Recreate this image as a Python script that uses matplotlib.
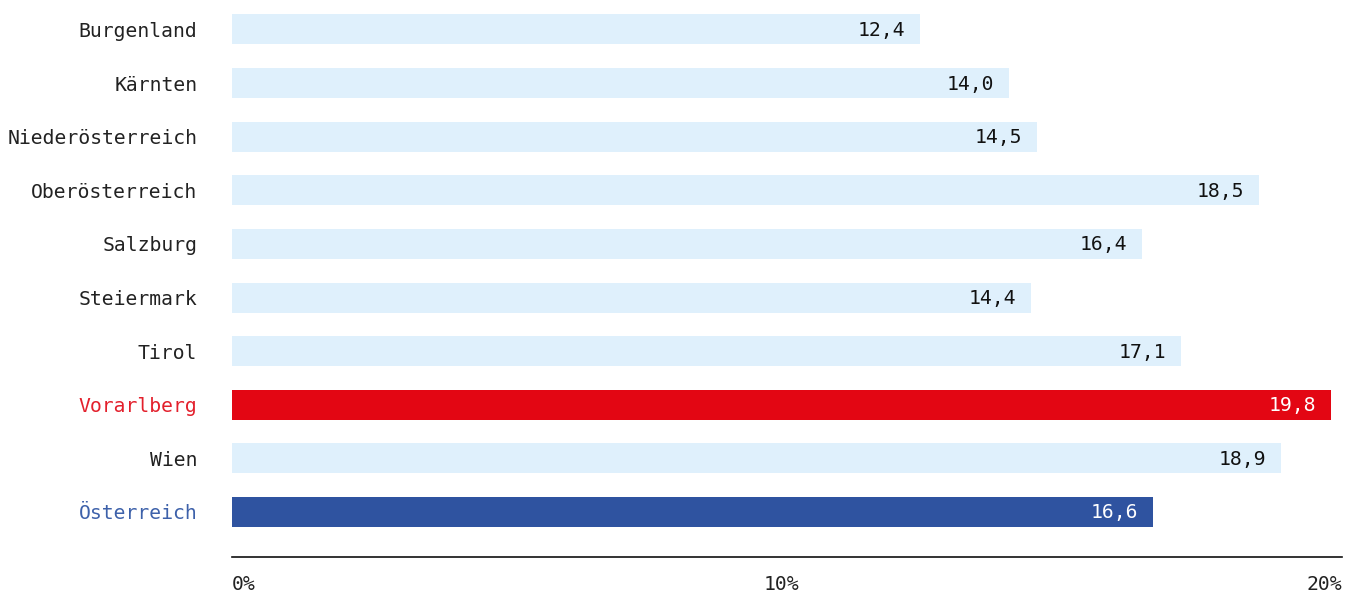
import matplotlib
matplotlib.use("Agg")
import matplotlib.pyplot as plt
import matplotlib.transforms as mtrans
import numpy as np

# data
regions = ["Burgenland", "Kärnten", "Niederösterreich", "Oberösterreich", "Salzburg",
           "Steiermark", "Tirol", "Vorarlberg", "Wien", "Österreich"]
values = [12.4, 14.0, 14.5, 18.5, 16.4, 14.4, 17.1, 19.8, 18.9, 16.6]
xticks = [0, 10, 20]
xticklabels = ["0%", "10%", "20%"]

light = "#dff0fc"
red = "#e30613"
blue = "#2f53a0"
bar_colors = [light] * len(regions)
bar_colors[7] = red
bar_colors[9] = blue
label_colors = ["#222222"] * len(regions)
label_colors[7] = "#e3202c"
label_colors[9] = "#3d61aa"

plt.rcParams['font.family'] = ['DejaVu Sans Mono']
fs = 14.2

fig = plt.figure(figsize=(13.58, 5.92), dpi=100)
ax = fig.add_axes([232 / 1358, 35 / 592, (1342 - 232) / 1358, 557 / 592])

y = np.arange(len(regions))
ax.barh(y, values, height=0.56, color=bar_colors)

for i, v in enumerate(values):
    c = "white" if bar_colors[i] != light else "#111111"
    ax.annotate(f"{v:.1f}".replace(".", ","), (v, i), xytext=(-15, -1),
                textcoords="offset pixels", ha="right", va="center",
                fontsize=fs, color=c)

ax.set_xlim(0, 20)
ax.set_ylim(9.84, -0.55)
ax.set_yticks(y)
ax.set_yticklabels(regions, fontsize=fs)
shift = mtrans.ScaledTranslation(0, -2 / 100, fig.dpi_scale_trans)
for lab, c in zip(ax.get_yticklabels(), label_colors):
    lab.set_color(c)
    lab.set_transform(lab.get_transform() + shift)
ax.tick_params(axis="y", length=0, pad=25)

ax.set_xticks(xticks)
ax.set_xticklabels(xticklabels, fontsize=fs, color="#222222")
ax.tick_params(axis="x", length=0, pad=13)
xl = ax.get_xticklabels()
xl[0].set_horizontalalignment("left")
xl[2].set_horizontalalignment("right")
xl[1].set_transform(xl[1].get_transform() + mtrans.ScaledTranslation(-6 / 100, 0, fig.dpi_scale_trans))

for s in ["top", "right", "left"]:
    ax.spines[s].set_visible(False)
ax.spines["bottom"].set_color("#111111")
ax.spines["bottom"].set_linewidth(1.2)

fig.savefig("out.png", dpi=100)
